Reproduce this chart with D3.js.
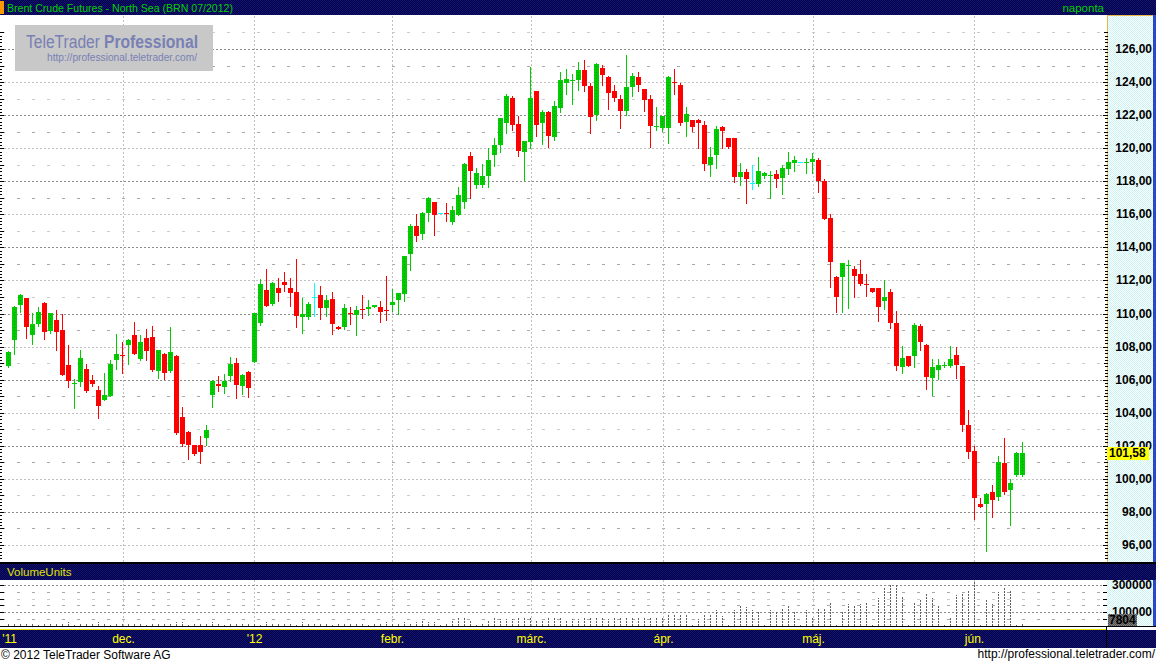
<!DOCTYPE html>
<html><head><meta charset="utf-8">
<script src="https://cdn.jsdelivr.net/npm/d3@7"></script>
<style>body{margin:0;background:#fff;overflow:hidden}svg{display:block;font-family:"Liberation Sans",Arial,sans-serif}</style>
</head><body><svg id="c" width="1156" height="664"></svg>
<script>
const titleText = "Brent Crude Futures - North Sea (BRN 07/2012)";
const periodText = "naponta";
const openP = [106.83,108.42,110.53,110.94,108.70,109.37,110.64,108.94,109.61,109.00,106.89,105.75,105.88,106.64,105.98,105.37,104.79,105.03,107.19,107.49,108.12,108.70,107.25,108.52,108.58,106.52,107.55,106.52,107.43,103.74,102.83,102.05,102.05,102.49,105.07,105.74,105.56,106.22,107.01,105.62,106.46,107.07,109.43,111.42,110.58,111.54,111.91,111.54,111.30,109.79,109.79,111.00,111.12,110.33,110.88,109.19,109.19,110.02,109.91,110.27,110.27,110.39,110.39,110.21,110.52,110.82,111.18,113.60,115.29,114.81,116.08,116.75,116.06,116.08,115.54,115.96,116.75,119.50,117.77,117.77,118.32,119.59,120.19,121.52,123.04,121.46,119.77,120.37,123.46,121.52,122.19,120.68,122.43,123.94,124.09,124.13,124.73,123.76,122.01,124.85,124.31,123.46,122.98,122.25,123.70,124.31,123.58,122.98,121.30,121.22,121.22,124.01,123.82,121.58,121.71,121.71,121.40,118.98,119.59,121.28,120.62,120.62,118.26,118.56,117.90,117.83,118.32,118.37,118.44,118.20,118.74,119.10,119.17,119.16,119.17,119.29,118.02,115.78,112.21,112.21,112.93,112.69,112.39,111.80,111.54,111.54,110.76,111.30,109.43,106.77,107.43,107.43,109.25,108.10,106.10,106.58,106.86,106.83,107.49,106.83,103.26,101.68,98.48,98.48,99.20,98.90,100.96,99.33,100.23,100.23];
const highP = [107.73,110.45,111.18,110.94,110.05,110.41,110.70,110.03,110.21,110.00,108.10,106.02,107.79,106.95,106.28,105.62,106.42,107.19,108.76,108.28,108.45,109.49,108.70,109.06,109.25,107.79,107.61,109.19,107.50,104.35,102.90,102.05,102.59,103.26,105.98,106.22,106.34,107.37,107.31,106.34,106.52,110.03,112.09,112.70,111.91,112.15,112.51,112.15,113.30,110.94,110.70,111.85,111.67,111.12,111.30,109.25,110.58,110.39,110.46,111.12,110.82,110.52,110.76,112.27,111.48,111.24,113.48,115.42,116.02,116.14,117.05,116.75,116.06,116.69,116.50,117.65,119.10,119.80,118.80,119.04,120.01,120.62,121.83,123.28,123.16,121.95,120.44,124.91,123.46,122.31,122.25,122.85,124.61,124.79,124.49,125.21,125.33,123.94,125.15,125.03,124.37,123.82,123.22,125.64,124.55,124.61,123.58,123.22,122.49,121.95,124.37,124.79,123.94,122.49,121.71,121.77,121.65,120.07,121.34,121.34,120.62,120.62,119.10,118.74,118.98,119.47,118.56,118.62,118.68,118.98,119.77,119.53,119.17,119.41,119.71,119.41,118.14,116.02,112.27,113.06,113.24,112.88,113.24,112.39,111.54,111.54,112.03,111.48,110.15,108.04,107.43,109.43,109.37,108.16,107.25,107.25,107.07,108.04,107.98,106.83,104.17,101.99,98.84,99.14,99.63,101.38,102.47,99.99,101.62,102.23];
const lowP = [106.77,107.55,110.09,108.52,108.16,109.25,108.46,108.82,107.79,106.28,105.57,104.30,105.63,105.25,105.62,103.70,104.79,105.03,106.64,106.40,106.95,107.55,107.19,107.19,106.52,106.10,106.04,106.46,102.73,102.01,101.22,101.46,100.98,102.05,104.37,105.31,105.19,105.92,104.89,105.13,104.95,107.07,109.31,110.46,110.52,110.76,111.36,110.46,109.19,108.82,109.67,109.85,109.67,109.85,108.76,109.06,109.06,109.37,108.70,109.73,109.91,110.39,109.49,109.61,110.15,109.97,110.76,112.63,114.39,114.51,115.60,114.75,116.06,115.60,115.42,115.96,116.38,116.99,117.60,117.67,117.67,118.94,119.77,120.92,121.10,119.53,118.08,120.01,120.74,120.25,120.07,120.50,122.19,123.28,122.67,123.52,123.46,120.92,121.71,123.82,122.37,122.85,121.22,122.01,123.16,123.46,122.25,120.07,121.10,121.04,120.31,123.28,121.40,120.74,121.04,120.01,118.68,118.32,118.80,120.01,120.01,117.96,117.77,116.69,117.53,117.71,118.20,116.99,117.65,117.23,118.44,118.62,119.17,118.50,118.50,117.35,115.72,111.60,110.09,110.09,110.33,111.00,111.73,111.06,111.30,109.55,110.27,109.12,106.58,106.40,106.83,106.77,107.79,105.43,105.07,106.04,106.77,106.77,106.10,102.89,101.26,97.57,98.30,95.64,97.69,98.72,99.08,97.21,100.17,100.17];
const closeP = [107.67,110.40,111.12,109.20,109.37,110.09,108.90,110.03,108.90,106.28,105.94,105.80,107.31,105.33,105.74,104.43,105.07,106.95,107.55,107.45,108.40,107.55,108.28,107.73,106.58,107.79,106.40,107.67,102.77,102.13,102.07,101.52,101.64,102.96,105.92,105.62,105.92,106.95,105.68,106.28,105.50,110.03,111.79,110.46,111.85,111.24,111.73,111.24,109.85,109.97,110.58,111.00,110.33,110.82,109.37,109.06,110.33,110.00,110.21,110.25,110.39,110.52,110.09,110.19,110.70,111.24,113.48,115.29,114.69,116.08,116.99,115.96,116.06,116.06,116.26,117.17,119.02,118.65,118.50,118.32,119.29,120.19,121.83,123.16,121.40,119.83,120.44,123.04,121.40,122.19,120.74,122.55,124.13,124.19,124.11,124.73,123.76,121.89,125.09,124.43,123.34,123.04,122.25,123.70,124.37,123.82,122.92,121.34,121.32,121.95,124.31,123.99,121.52,122.07,121.28,121.52,119.04,119.47,121.16,121.04,120.07,118.26,118.56,118.14,117.90,118.62,118.50,118.39,118.14,118.80,119.17,119.29,119.17,119.18,119.35,118.02,115.72,113.12,111.00,113.06,112.95,112.27,111.79,111.78,111.30,110.39,111.00,109.43,106.83,107.31,106.83,109.31,108.28,106.16,106.77,106.89,106.88,107.25,106.89,103.26,101.62,98.84,98.30,99.08,98.72,101.02,99.20,99.75,101.56,101.58];
const volumes = [12000,15000,18000,14000,16000,3000,20000,17000,15000,22000,25000,3000,18000,20000,16000,24000,14000,3000,19000,22000,18000,16000,21000,3000,20000,18000,15000,17000,26000,24000,3000,20000,22000,19000,25000,21000,3000,15000,18000,17000,14000,20000,3000,24000,22000,19000,18000,16000,3000,26000,20000,21000,19000,17000,3000,16000,18000,22000,20000,15000,3000,19000,18000,24000,20000,22000,28000,16000,28000,36000,28000,23000,3000,21000,36000,58000,60000,41000,3000,21000,36000,53000,46000,46000,46000,53000,60000,58000,41000,33000,53000,65000,58000,36000,46000,46000,53000,65000,53000,58000,48000,58000,53000,58000,60000,65000,60000,65000,53000,60000,83000,83000,83000,83000,3000,46000,78000,83000,115000,70000,3000,115000,147000,135000,115000,98000,3000,115000,107000,127000,152000,102000,3000,115000,60000,127000,127000,164000,3000,107000,157000,152000,157000,172000,3000,201000,280000,300000,300000,211000,3000,177000,191000,243000,201000,152000,3000,65000,226000,231000,263000,325000,3000,186000,157000,246000,288000,258000,3000,7804];
const priceTicks = [96,98,100,102,104,106,108,110,112,114,116,118,120,122,124,126];
const monthStartIdx = [0,19,41,64,87,109,134,161];
const monthLabels = ["'11","dec.","'12","febr.","márc.","ápr.","máj.","jún."];
const volumeTicks = [100000,300000];
const lastPrice = 101.58, lastVolume = 7804;

const svg = d3.select("#c");
const W = 1156, H = 664;
const plotL = 0, plotR = 1106, plotT = 16, plotB = 563;
const axL = 1107, axR = 1153;
const volT = 580, volB = 626;

const x = d3.scaleLinear().domain([0, openP.length - 1]).range([8.5, 8.5 + 6 * (openP.length - 1)]);
const y = d3.scaleLinear().domain([96, 126]).range([545, 49]);
const yv = d3.scaleLinear().domain([0, 300000]).range([625.5, 585]);
const fmt = v => d3.format(".2f")(v).replace(".", ",");

const defs = svg.append("defs");
function pat(id, a, b) {
  const p = defs.append("pattern").attr("id", id).attr("width", 2).attr("height", 2).attr("patternUnits", "userSpaceOnUse");
  p.append("rect").attr("width", 2).attr("height", 2).attr("fill", a);
  p.append("rect").attr("width", 1).attr("height", 1).attr("fill", b);
  p.append("rect").attr("x", 1).attr("y", 1).attr("width", 1).attr("height", 1).attr("fill", b);
}
pat("navy", "#000048", "#141470");
pat("cyan", "#ffffff", "#c8f4f4");
pat("dgray", "#505050", "#808080");

svg.append("rect").attr("width", W).attr("height", H).attr("fill", "#fff");

// Title bar
svg.append("rect").attr("x", 0).attr("y", 0).attr("width", W).attr("height", 15).attr("fill", "url(#navy)");
svg.append("rect").attr("x", 0).attr("y", 1).attr("width", 4).attr("height", 13).attr("fill", "#ff9900");
svg.append("text").attr("x", 7).attr("y", 12).attr("font-size", 11.5).attr("fill", "#00d000")
  .attr("textLength", 226).attr("lengthAdjust", "spacingAndGlyphs").text(titleText);
svg.append("text").attr("x", 1104).attr("y", 12).attr("font-size", 11.5).attr("fill", "#00d000").attr("text-anchor", "end").text(periodText);

// main plot grid
const g = svg.append("g").attr("shape-rendering", "crispEdges");
for (let v = 95; v <= 127; v++) {
  const yy = Math.round(y(v)) + 0.5;
  if (v % 2 === 0) {
    g.append("line").attr("x1", plotL).attr("x2", plotR).attr("y1", yy).attr("y2", yy)
      .attr("stroke", v % 4 === 2 ? "#8c8c8c" : "#c0c0c0").attr("stroke-dasharray", "2,2");
  } else {
    g.append("line").attr("x1", 2).attr("x2", plotR).attr("y1", yy).attr("y2", yy)
      .attr("stroke", v % 4 === 1 ? "#a8a8a8" : "#cccccc").attr("stroke-dasharray", "3,12");
  }
}
monthStartIdx.slice(1).forEach(i => {
  const xx = Math.round(x(i)) + 0.5;
  g.append("line").attr("x1", xx).attr("x2", xx).attr("y1", plotT).attr("y2", plotB).attr("stroke", "#c0c0c0").attr("stroke-dasharray", "2,2");
  g.append("line").attr("x1", xx).attr("x2", xx).attr("y1", volT).attr("y2", volB).attr("stroke", "#c0c0c0").attr("stroke-dasharray", "2,2");
});
for (let v = 95; v <= 127.01; v += 0.2) {
  const yy = Math.round(y(v)) + 0.5;
  const major = Math.abs(v - Math.round(v)) < 0.01;
  g.append("line").attr("x1", 0).attr("x2", major ? 4 : 2).attr("y1", yy).attr("y2", yy).attr("stroke", "#000");
}

// watermark
svg.append("rect").attr("x", 15).attr("y", 25).attr("width", 198).attr("height", 46).attr("fill", "#c8c8c8");
svg.append("text").attr("x", 26).attr("y", 48).attr("font-size", 18).attr("fill", "#7880b4")
  .attr("textLength", 74).attr("lengthAdjust", "spacingAndGlyphs").text("TeleTrader");
svg.append("text").attr("x", 104).attr("y", 48).attr("font-size", 18).attr("font-weight", "bold").attr("fill", "#7880b4")
  .attr("textLength", 94).attr("lengthAdjust", "spacingAndGlyphs").text("Professional");
svg.append("text").attr("x", 47).attr("y", 61).attr("font-size", 11.5).attr("fill", "#7880b4")
  .attr("textLength", 150).attr("lengthAdjust", "spacingAndGlyphs").text("http://professional.teletrader.com/");

// candles
const data = openP.map((o, i) => ({ i, o, h: highP[i], l: lowP[i], c: closeP[i] }));
const col = d => d.c > d.o ? "#00cc00" : d.c < d.o ? "#ff0000" : "#00ffff";
const cg = svg.append("g").attr("shape-rendering", "crispEdges");
cg.selectAll("line.w").data(data).join("line").attr("class", "w")
  .attr("x1", d => x(d.i)).attr("x2", d => x(d.i))
  .attr("y1", d => Math.round(y(d.h))).attr("y2", d => Math.round(y(d.l)) + 1)
  .attr("stroke", col);
cg.selectAll("rect.b").data(data).join("rect").attr("class", "b")
  .attr("x", d => x(d.i) - 2.5).attr("width", 5)
  .attr("y", d => Math.round(y(Math.max(d.o, d.c))))
  .attr("height", d => Math.max(1, Math.round(y(Math.min(d.o, d.c))) - Math.round(y(Math.max(d.o, d.c)))))
  .attr("fill", col);
cg.selectAll("line.dot").data(data.filter(d => d.c > d.o && y(d.o) - y(d.c) > 5)).join("line").attr("class", "dot")
  .attr("x1", d => x(d.i)).attr("x2", d => x(d.i))
  .attr("y1", d => Math.round(y(d.c)) + 2).attr("y2", d => Math.round(y(d.o)) - 1)
  .attr("stroke", "#009800").attr("stroke-dasharray", "1,2");

// price axis panel
svg.append("rect").attr("x", axL).attr("y", 15).attr("width", axR - axL).attr("height", plotB - 15).attr("fill", "url(#cyan)");
svg.append("rect").attr("x", axR).attr("y", 15).attr("width", 3).attr("height", plotB - 15).attr("fill", "#2848c8");
const ag = svg.append("g").attr("shape-rendering", "crispEdges");
ag.append("line").attr("x1", axL + 0.5).attr("x2", axL + 0.5).attr("y1", 15).attr("y2", plotB).attr("stroke", "#e8b848");
ag.append("line").attr("x1", axL).attr("x2", axR).attr("y1", 15.5).attr("y2", 15.5).attr("stroke", "#e8b848");
for (let v = 95; v <= 127.01; v += 0.2) {
  const yy = Math.round(y(v)) + 0.5;
  const r = Math.round(v * 10) / 10;
  const len = (r % 2 === 0) ? 5 : (Math.abs(r - Math.round(r)) < 0.01 ? 4 : 3);
  ag.append("line").attr("x1", axL - len + 1).attr("x2", axL + 1).attr("y1", yy).attr("y2", yy).attr("stroke", "#000");
}
svg.append("g").selectAll("text").data(priceTicks).join("text")
  .attr("x", 1152).attr("y", d => y(d) + 4).attr("text-anchor", "end")
  .attr("font-size", 12).attr("font-weight", "bold").attr("fill", "#000").text(fmt);
svg.append("rect").attr("x", axL).attr("y", Math.round(y(lastPrice)) - 6).attr("width", 42).attr("height", 13).attr("fill", "#ffff00");
svg.append("text").attr("x", axL + 2).attr("y", Math.round(y(lastPrice)) + 4).attr("font-size", 12).attr("font-weight", "bold").attr("fill", "#000").text(fmt(lastPrice));

// volume title band
svg.append("rect").attr("x", 0).attr("y", plotB).attr("width", W).attr("height", volT - plotB).attr("fill", "url(#navy)");
svg.append("rect").attr("x", 0).attr("y", plotB - 1).attr("width", W).attr("height", 2).attr("fill", "#000");
svg.append("text").attr("x", 7).attr("y", 576).attr("font-size", 11.5).attr("fill", "#e0e000").text("VolumeUnits");

// volume grid
const vg = svg.append("g").attr("shape-rendering", "crispEdges");
for (let v = 0; v <= 300000; v += 50000) {
  const yy = Math.round(yv(v)) + 0.5;
  if (v === 100000 || v === 300000) {
    vg.append("line").attr("x1", 0).attr("x2", plotR).attr("y1", yy).attr("y2", yy).attr("stroke", "#8c8c8c").attr("stroke-dasharray", "2,2");
  } else {
    vg.append("line").attr("x1", 2).attr("x2", plotR).attr("y1", yy).attr("y2", yy).attr("stroke", v === 200000 ? "#cccccc" : "#a8a8a8").attr("stroke-dasharray", "3,12");
  }
  vg.append("line").attr("x1", 0).attr("x2", 4).attr("y1", yy).attr("y2", yy).attr("stroke", "#000");
}
vg.selectAll("line.v").data(volumes).join("line").attr("class", "v")
  .attr("x1", (d, i) => x(i)).attr("x2", (d, i) => x(i))
  .attr("y1", yv(0)).attr("y2", d => Math.min(yv(0) - 1, yv(d)))
  .attr("stroke", "#606060").attr("stroke-dasharray", "2,1");

// volume axis panel
svg.append("rect").attr("x", axL).attr("y", volT).attr("width", axR - axL).attr("height", volB - volT).attr("fill", "url(#cyan)");
svg.append("rect").attr("x", axR).attr("y", volT).attr("width", 3).attr("height", volB - volT).attr("fill", "#2848c8");
vg.append("line").attr("x1", axL + 0.5).attr("x2", axL + 0.5).attr("y1", volT).attr("y2", volB).attr("stroke", "#e8b848");
vg.append("line").attr("x1", axL).attr("x2", axR).attr("y1", volT + 0.5).attr("y2", volT + 0.5).attr("stroke", "#e8b848");
for (let v = 0; v <= 300000; v += 50000) {
  const yy = Math.round(yv(v)) + 0.5;
  vg.append("line").attr("x1", axL - 4).attr("x2", axL + 1).attr("y1", yy).attr("y2", yy).attr("stroke", "#000");
}
svg.append("g").selectAll("text").data(volumeTicks).join("text")
  .attr("x", 1152).attr("y", d => yv(d) + 4).attr("text-anchor", "end")
  .attr("font-size", 12).attr("font-weight", "bold").attr("fill", "#000").text(d => d);
svg.append("rect").attr("x", 1108).attr("y", 614).attr("width", 29).attr("height", 12).attr("fill", "url(#dgray)");
svg.append("text").attr("x", 1109).attr("y", 624).attr("font-size", 12).attr("font-weight", "bold").attr("fill", "#000").text(lastVolume);

// date axis
svg.append("rect").attr("x", 0).attr("y", volB).attr("width", W).attr("height", 1).attr("fill", "#000");
svg.append("rect").attr("x", 0).attr("y", 629).attr("width", plotR).attr("height", 1).attr("fill", "#e8e800");
svg.append("rect").attr("x", 0).attr("y", 630).attr("width", W).attr("height", 18).attr("fill", "url(#navy)");
svg.append("rect").attr("x", plotR).attr("y", 627).attr("width", 1).attr("height", 21).attr("fill", "#000");
svg.append("g").selectAll("text").data(monthStartIdx).join("text")
  .attr("x", d => Math.max(9, Math.round(x(d)) + 0.5)).attr("y", 643).attr("text-anchor", "middle")
  .attr("font-size", 12).attr("fill", "#ffff00").text((d, k) => monthLabels[k]);

// footer
svg.append("text").attr("x", 1).attr("y", 659).attr("font-size", 12).attr("fill", "#000").text("© 2012 TeleTrader Software AG");
svg.append("text").attr("x", 1155).attr("y", 658).attr("font-size", 12).attr("fill", "#000").attr("text-anchor", "end").text("http://professional.teletrader.com/");
</script></body></html>
